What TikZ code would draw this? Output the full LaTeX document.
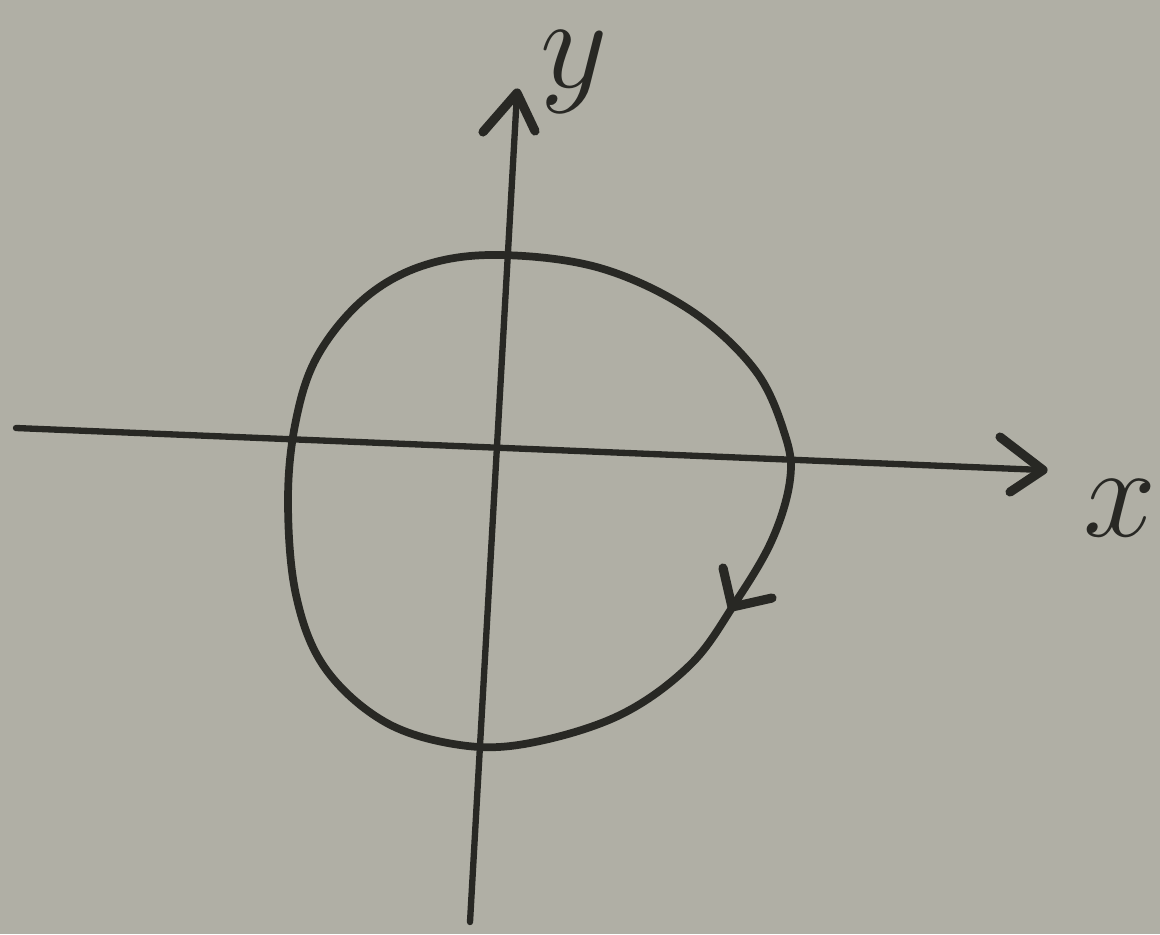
\documentclass[tikz,border=0pt]{standalone}
\usepackage{graphicx}
\usepackage{tikz}
\usetikzlibrary{arrows.meta}
\definecolor{paper}{RGB}{176,175,165}
\definecolor{pencil}{RGB}{40,40,36}
\tikzset{
  axis/.style={pencil, line width=1.8pt, line cap=round},
  loopline/.style={pencil, line width=2.2pt, line cap=round, line join=round},
  barb/.style={pencil, line width=2.6pt, line cap=round, line join=round},
  lbl/.style={pencil, font=\Huge, inner sep=0pt}
}
\newcommand{\biglbl}[1]{\scalebox{1.5}{$#1$}}
\begin{document}
\begin{tikzpicture}[x=0.1mm, y=-0.1mm]
\fill[paper] (0,0) rectangle (1160,934);
\useasboundingbox (0,0) rectangle (1160,934);

% axes
\coordinate (xs) at (16,428);
\coordinate (xe) at (1043,470);
\coordinate (ys) at (470,922);
\coordinate (ye) at (517,93);
\draw[axis] (xs) -- (xe);
\draw[axis] (ys) -- (ye);
\draw[barb] (1000,437) -- (xe) -- (1010,492);
\draw[barb] (483,132) -- (ye) -- (535,131);

% closed loop, clockwise
\draw[loopline] plot[smooth cycle, tension=0.6] coordinates {
  (500,255) (600,268) (690,310) (755,370) (785,435) (790,480)
  (772,540) (735,603) (690,665) (620,715) (530,743) (460,745)
  (385,722) (325,668) (296,595) (288,500) (296,420) (318,355)
  (365,298) (425,265)};
\coordinate (tip) at (732,607);
\draw[barb] (723,568) -- (tip) -- (772,598);

% labels
\node[lbl] (ylab) at (574,72) {\biglbl{y}};
\node[lbl] (xlab) at (1120,508) {\biglbl{x}};
\end{tikzpicture}
\end{document}
